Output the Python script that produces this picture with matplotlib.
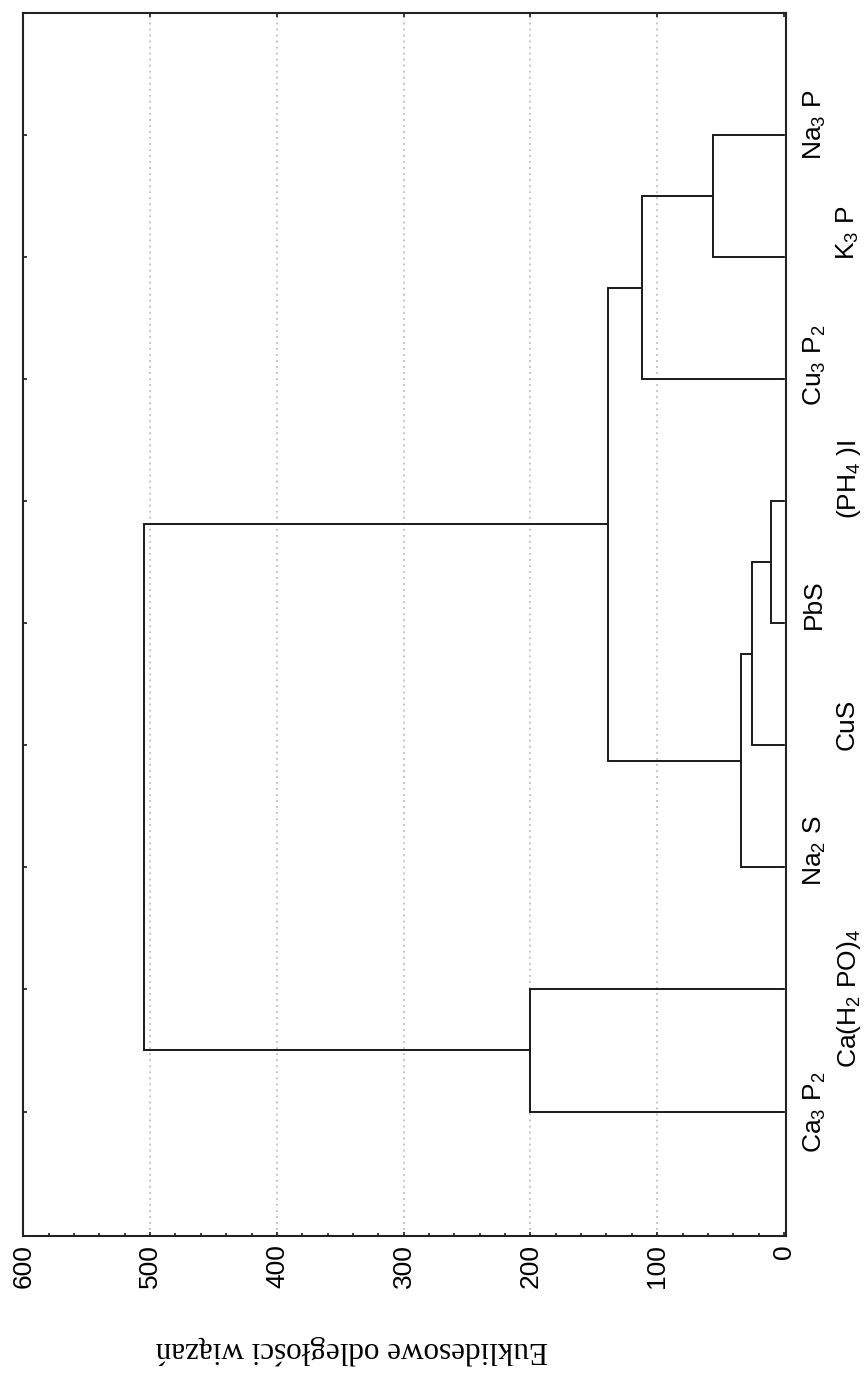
import matplotlib
matplotlib.use("Agg")
import matplotlib.pyplot as plt
from matplotlib.ticker import MultipleLocator, FixedLocator
from matplotlib.transforms import blended_transform_factory, offset_copy

plt.rcParams['font.family'] = ['Liberation Sans', 'DejaVu Sans']
plt.rcParams['mathtext.fontset'] = 'custom'
plt.rcParams['mathtext.rm'] = 'Liberation Sans'
plt.rcParams['mathtext.it'] = 'Liberation Sans:italic'
plt.rcParams['mathtext.bf'] = 'Liberation Sans:bold'
plt.rcParams['mathtext.default'] = 'regular'

# ---- data ----
leaf_labels = ["Na$_3$ P", "K$_3$ P", "Cu$_3$ P$_2$", "(PH$_4$ )I", "PbS",
               "CuS", "Na$_2$ S", "Ca(H$_2$ PO)$_4$", "Ca$_3$ P$_2$"]
# linkage: cluster ids 0..8 are leaves, new clusters numbered from 9
merge_a = [3, 9, 10, 0, 12, 13, 7, 14]
merge_b = [4, 5, 6, 1, 2, 11, 8, 15]
merge_height = [10, 25, 34, 56, 112, 139, 200, 505]
dist_ticks = [0, 100, 200, 300, 400, 500, 600]
axis_label = "Euklidesowe odległości wiązań"

# ---- figure ----
W, H = 868, 1373
fig = plt.figure(figsize=(W / 100, H / 100), dpi=100)
ax_l, ax_r, ax_t, ax_b = 22.7, 786.0, 13.0, 1236.0
ax = fig.add_axes([ax_l / W, (H - ax_b) / H, (ax_r - ax_l) / W, (ax_b - ax_t) / H])

line_col = '#1a1a1a'
n = len(leaf_labels)
pos = {i: float(i + 1) for i in range(n)}
hgt = {i: 0.0 for i in range(n)}
for k, (a, b, h) in enumerate(zip(merge_a, merge_b, merge_height)):
    ya, yb = pos[a], pos[b]
    ax.plot([hgt[a], h, h, hgt[b]], [ya, ya, yb, yb], color=line_col, lw=1.4,
            solid_joinstyle='miter', solid_capstyle='butt', zorder=3)
    pos[n + k] = (ya + yb) / 2
    hgt[n + k] = h

ax.set_xlim(600.5, -1.6)
ax.set_ylim(10.02, 0.0)

# grid
for v in dist_ticks[1:-1]:
    ax.axvline(v, color='#c6c6c6', lw=1.4, ls=(0, (1, 2.1)), zorder=1)

# ticks
ax.xaxis.set_major_locator(FixedLocator(dist_ticks))
ax.xaxis.set_minor_locator(MultipleLocator(20))
ax.set_xticklabels([str(t) for t in dist_ticks], rotation=90, fontsize=19)
ax.tick_params(axis='x', which='major', direction='in', top=True, bottom=True,
               length=3, width=1.2, pad=6, color=line_col)
ax.tick_params(axis='x', which='minor', direction='in', top=False, bottom=True,
               length=2, width=1.2, color=line_col)
ax.set_yticks([pos[i] for i in range(n)])
ax.set_yticklabels([])
ax.tick_params(axis='y', which='major', direction='in', left=True, right=True,
               length=3, width=1.2, color=line_col)
for s in ax.spines.values():
    s.set_linewidth(1.5)
    s.set_color('#222222')

# leaf labels (staggered in two columns)
col_x = [(802 - ax_l) / (ax_r - ax_l), (835 - ax_l) / (ax_r - ax_l)]
shift_px = [10, 24, 14, 22, 19, 21, 17, -9, -1]
btrans = blended_transform_factory(ax.transAxes, ax.transData)
for i, lab in enumerate(leaf_labels):
    tr = offset_copy(btrans, fig=fig, x=0, y=shift_px[i], units='dots')
    ax.text(col_x[i % 2], pos[i], lab, rotation=90, ha='left', va='center',
            fontsize=19, transform=tr, clip_on=False)

# axis label, upside down, serif; fit width to ~393 px
lbl = fig.text(352 / W, 1 - 1350 / H, axis_label, rotation=180, ha='center', va='center',
               family=['Liberation Serif', 'DejaVu Serif'], fontsize=20)
fig.canvas.draw()
w = lbl.get_window_extent(fig.canvas.get_renderer()).width
lbl.set_fontsize(20 * 393 / w)

fig.savefig("out.png", dpi=100)
